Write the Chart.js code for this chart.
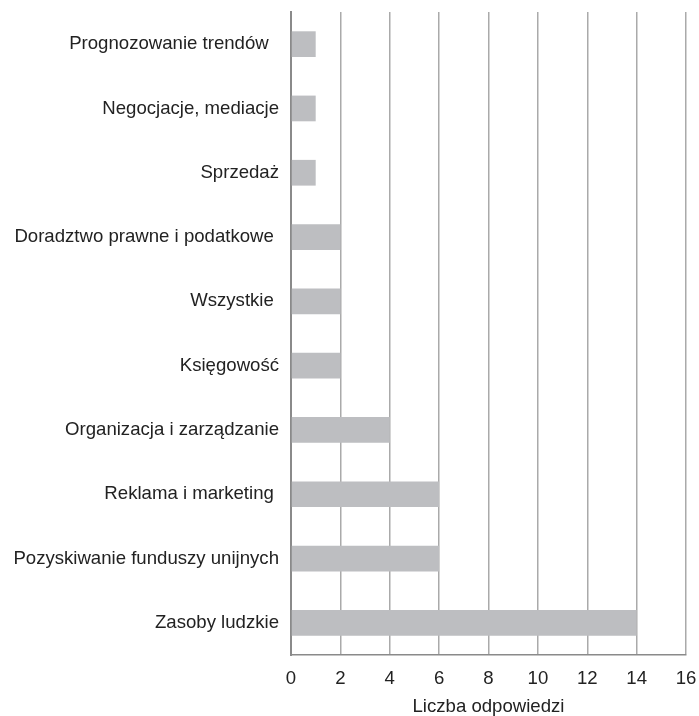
<!DOCTYPE html>
<html>
<head>
<meta charset="utf-8">
<script src="https://cdn.jsdelivr.net/npm/chart.js@4"></script>
<style>
  html, body { margin: 0; padding: 0; background: #fff; }
  #wrap { width: 699px; height: 716px; }
</style>
</head>
<body>
<div id="wrap"><canvas id="chart"></canvas></div>
<script>
// kategorie (od góry do dołu)
const categories = [
  "Prognozowanie trendów  ",
  "Negocjacje, mediacje",
  "Sprzedaż",
  "Doradztwo prawne i podatkowe ",
  "Wszystkie ",
  "Księgowość",
  "Organizacja i zarządzanie",
  "Reklama i marketing ",
  "Pozyskiwanie funduszy unijnych",
  "Zasoby ludzkie"
];
const answers = [1, 1, 1, 2, 2, 2, 4, 6, 6, 14];
const xTicks = [0, 2, 4, 6, 8, 10, 12, 14, 16];
const xTitle = "Liczba odpowiedzi";

const font = "'Liberation Sans', Arial, Helvetica, sans-serif";
const fontSize = 18.6;

new Chart(document.getElementById("chart"), {
  type: "bar",
  data: {
    labels: categories,
    datasets: [{
      data: answers,
      backgroundColor: "#bdbec1",
      borderWidth: 0,
      categoryPercentage: 1,
      barPercentage: 0.4
    }]
  },
  options: {
    indexAxis: "y",
    responsive: true,
    maintainAspectRatio: false,
    animation: false,
    layout: { padding: { top: 12, right: 13, left: 0, bottom: 0 } },
    plugins: { legend: { display: false }, tooltip: { enabled: false } },
    scales: {
      x: {
        min: 0,
        max: 16,
        afterBuildTicks: (s) => { s.ticks = xTicks.map(v => ({ value: v })); },
        grid: { color: "#aaaaaa", lineWidth: 1.5, drawTicks: false },
        border: { color: "#8a8a8a", width: 1.5 },
        ticks: { color: "#222", font: { family: font, size: fontSize }, padding: 13 },
        title: { display: true, text: xTitle, color: "#222", font: { family: font, size: fontSize }, padding: { top: 0, bottom: -2 } },
        afterFit: (s) => { s.height = 61; s.paddingLeft = 0; s.paddingRight = 0; }
      },
      y: {
        grid: { display: false },
        border: { color: "#8a8a8a", width: 2 },
        ticks: { color: "#222", font: { family: font, size: fontSize }, padding: 4 },
        afterFit: (s) => { s.width = 291; s.paddingTop = 0; s.paddingBottom = 0; }
      }
    }
  }
});
</script>
</body>
</html>
